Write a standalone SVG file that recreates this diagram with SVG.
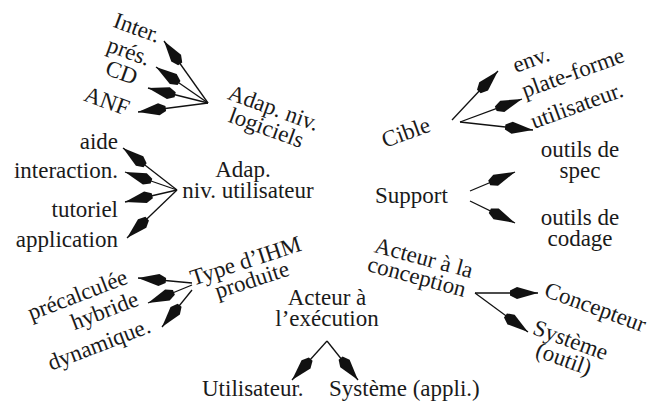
<svg xmlns="http://www.w3.org/2000/svg" width="650" height="403" viewBox="0 0 650 403">
<style>
text{font-family:"Liberation Serif","Times New Roman",serif;font-size:23px;fill:#1a1a1a;}
.m{text-anchor:middle}
.e{text-anchor:end}
.c line{stroke:#111;stroke-width:1.3;marker-end:url(#ah)}
</style>
<defs>
<marker id="ah" markerUnits="userSpaceOnUse" markerWidth="32" markerHeight="14" refX="0" refY="0" orient="auto" style="overflow:visible">
<path d="M-28,-2.5 L-21,-6 L0,0 L-21,6 L-28,2.5 Z" fill="#111"/>
</marker>
</defs>
<rect width="650" height="403" fill="#fff"/>
<g id="connectors" class="c">
<line x1="208" y1="103" x2="164" y2="41"/>
<line x1="208" y1="103" x2="156" y2="67"/>
<line x1="208" y1="103" x2="148" y2="88"/>
<line x1="208" y1="103" x2="138" y2="112"/>
<line x1="177" y1="190" x2="123" y2="148"/>
<line x1="177" y1="190" x2="125" y2="172"/>
<line x1="177" y1="190" x2="125" y2="202"/>
<line x1="177" y1="190" x2="127" y2="238"/>
<line x1="192" y1="283" x2="138" y2="278"/>
<line x1="192" y1="285" x2="148" y2="303"/>
<line x1="192" y1="290" x2="162" y2="327"/>
<line x1="327" y1="341" x2="292" y2="380"/>
<line x1="327" y1="341" x2="358" y2="380"/>
<line x1="452" y1="120" x2="498" y2="71"/>
<line x1="460" y1="122" x2="522" y2="99"/>
<line x1="460" y1="122" x2="533" y2="130"/>
<line x1="470" y1="191" x2="515" y2="172"/>
<line x1="470" y1="201" x2="515" y2="223"/>
<line x1="475" y1="293" x2="538" y2="293"/>
<line x1="475" y1="293" x2="528" y2="332"/>
</g>
<g id="adap-logiciels">
<g transform="translate(271,115) rotate(20)"><text class="m" x="0" y="0">Adap. niv.</text><text class="m" x="0" y="21">logiciels</text></g>
</g>
<g id="inter"><text class="e" transform="translate(157,43) rotate(20)">Inter.</text></g>
<g id="pres"><text class="e" transform="translate(147,66) rotate(20)">prés.</text></g>
<g id="cd"><text class="e" transform="translate(134,85) rotate(20)">CD</text></g>
<g id="anf"><text class="e" transform="translate(126,116) rotate(20)">ANF</text></g>
<g id="adap-utilisateur"><text class="m" x="243" y="177">Adap.</text><text class="m" x="248" y="198">niv. utilisateur</text></g>
<g id="aide"><text class="e" x="118" y="149">aide</text></g>
<g id="interaction"><text class="e" x="118" y="178">interaction.</text></g>
<g id="tutoriel"><text class="e" x="118" y="217">tutoriel</text></g>
<g id="application"><text class="e" x="118" y="247">application</text></g>
<g id="type-ihm"><g transform="translate(248,268) rotate(-18)"><text class="m" x="0" y="0">Type d’IHM</text><text class="m" x="0" y="20">produite</text></g></g>
<g id="precalculee"><text class="e" transform="translate(129,283) rotate(-21)">précalculée</text></g>
<g id="hybride"><text class="e" transform="translate(140,305) rotate(-21)">hybride</text></g>
<g id="dynamique"><text class="e" transform="translate(152,332) rotate(-21)">dynamique.</text></g>
<g id="acteur-execution"><text class="m" x="327" y="305">Acteur à</text><text class="m" x="327" y="326">l’exécution</text></g>
<g id="utilisateur-exec"><text x="202" y="396">Utilisateur.</text></g>
<g id="systeme-appli"><text x="329" y="396">Système (appli.)</text></g>
<g id="cible"><text transform="translate(385,148) rotate(-20)">Cible</text></g>
<g id="env"><text transform="translate(516,73) rotate(-20)">env.</text></g>
<g id="plate-forme"><text transform="translate(525,98) rotate(-20)">plate-forme</text></g>
<g id="utilisateur-cible"><text transform="translate(534,129) rotate(-20)">utilisateur.</text></g>
<g id="support"><text x="375" y="203">Support</text></g>
<g id="outils-spec"><text class="m" x="580" y="157">outils de</text><text class="m" x="580" y="178">spec</text></g>
<g id="outils-codage"><text class="m" x="580" y="225">outils de</text><text class="m" x="580" y="246">codage</text></g>
<g id="acteur-conception"><g transform="translate(422,265) rotate(15)"><text class="m" x="0" y="0">Acteur à la</text><text class="m" x="-2" y="20">conception</text></g></g>
<g id="concepteur"><text transform="translate(543,296) rotate(20)">Concepteur</text></g>
<g id="systeme-outil"><g transform="translate(568,347) rotate(20)"><text class="m" x="0" y="0">Système</text><text class="m" x="0" y="20">(outil)</text></g></g>
</svg>
